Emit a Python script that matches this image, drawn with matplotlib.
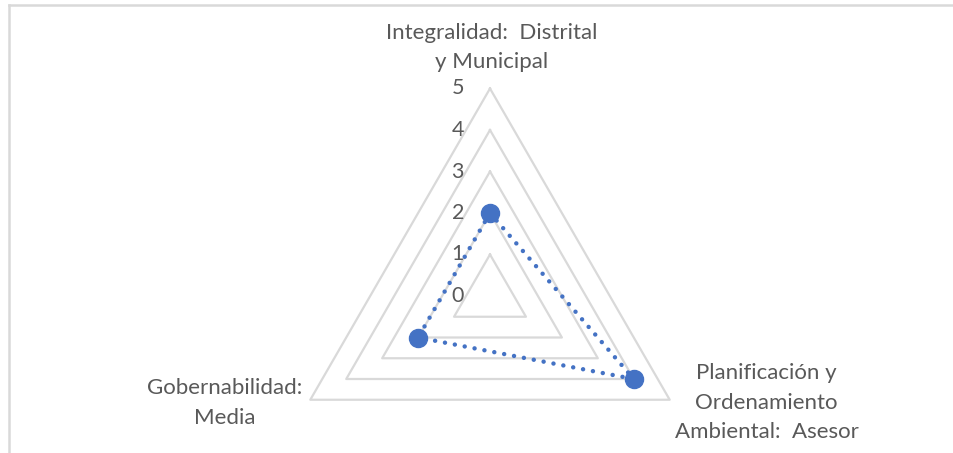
import numpy as np
import matplotlib

matplotlib.use("Agg")
import matplotlib.pyplot as plt
from matplotlib.transforms import offset_copy

categorias = ["Integralidad:  Distrital\ny Municipal",
              "Planificación y\nOrdenamiento\nAmbiental:  Asesor",
              "Gobernabilidad:\nMedia"]
valores = [2, 4, 2]
niveles = [0, 1, 2, 3, 4, 5]
etiquetas_niveles = ["0", "1", "2", "3", "4", "5"]

_COR_LINHA = "#4472C4"
_COR_GRADE = "#D9D9D9"
_COR_TEXTO = "#595959"

plt.rcParams["font.family"] = ["Lato", "DejaVu Sans"]

W, H = 954, 453
fig = plt.figure(figsize=(W / 100, H / 100), dpi=100)

# centro do radar em (490, 296) px, 41.5 px por unidade
cx, cy, escala = 490, 296, 41.5
raio = 5 * escala
ax = fig.add_axes([(cx - raio) / W, (H - cy - raio) / H, 2 * raio / W, 2 * raio / H],
                  projection="polar")
ax.set_theta_offset(np.pi / 2)
ax.set_theta_direction(-1)
ax.set_ylim(0, 5)
ax.grid(False)
ax.set_xticks([])
ax.set_yticks([])
ax.spines["polar"].set_visible(False)
ax.patch.set_visible(False)

angulos = np.linspace(0, 2 * np.pi, len(categorias), endpoint=False)
ang_fech = np.append(angulos, angulos[0])

# grade triangular
for n in niveles[1:]:
    ax.plot(ang_fech, [n] * len(ang_fech), color=_COR_GRADE, lw=1.6, clip_on=False, zorder=1)

# série
val_fech = valores + valores[:1]
ax.plot(ang_fech, val_fech, color=_COR_LINHA, lw=3.2, linestyle=(0, (0.01, 2.25)),
        dash_capstyle="round", clip_on=False, zorder=3)
ax.plot(angulos, valores, "o", color=_COR_LINHA, ms=13, clip_on=False, zorder=4)

# rótulos do eixo radial
trans = offset_copy(ax.transData, fig=fig, x=-26, y=0, units="dots")
for n, txt in zip(niveles, etiquetas_niveles):
    ax.text(0, n, txt, transform=trans, ha="right", va="center", fontsize=15.5,
            color=_COR_TEXTO, clip_on=False)

# rótulos das categorias
deslocamentos = [(2, 41), (97, -3), (-86, -3)]
for ang, cat, (dx, dy) in zip(angulos, categorias, deslocamentos):
    ax.annotate(cat, xy=(ang, 5), xytext=(dx, dy), textcoords="offset pixels",
                ha="center", va="center", multialignment="center", fontsize=16,
                color=_COR_TEXTO, linespacing=1.6, annotation_clip=False)

# moldura da área do gráfico
fig.add_artist(plt.Line2D([9 / W, 9 / W], [0, 1 - 5 / H], color=_COR_GRADE, lw=1.8))
fig.add_artist(plt.Line2D([9 / W, 1], [1 - 5 / H, 1 - 5 / H], color=_COR_GRADE, lw=1.8))

fig.savefig("out.png", dpi=100)
